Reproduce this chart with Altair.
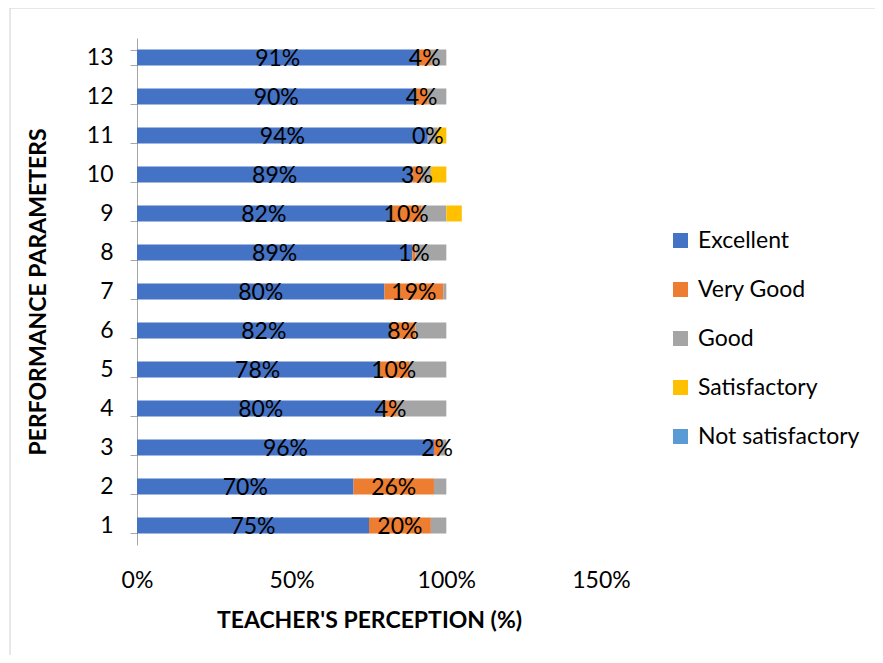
import altair as alt
import pandas as pd

params = [str(i) for i in range(1, 14)]
excellent = [75, 70, 96, 80, 78, 82, 80, 89, 82, 89, 94, 90, 91]
very_good = [20, 26, 2, 4, 10, 8, 19, 1, 10, 3, 0, 4, 4]
good = [5, 4, 2, 16, 12, 10, 1, 10, 8, 3, 3, 6, 5]
satisfactory = [0, 0, 0, 0, 0, 0, 0, 0, 5, 5, 3, 0, 0]
not_satisfactory = [0] * 13

categories = ["Excellent", "Very Good", "Good", "Satisfactory", "Not satisfactory"]
colors = ["#4472C4", "#ED7D31", "#A5A5A5", "#FFC000", "#5B9BD5"]
series = [excellent, very_good, good, satisfactory, not_satisfactory]
labelled = {"Excellent", "Very Good"}

rows = []
for i, p in enumerate(params):
    start = 0
    for k, cat in enumerate(categories):
        v = series[k][i]
        rows.append({"param": p, "cat": cat, "order": k, "x0": start, "x1": start + v,
                     "mid": start + v / 2, "val": v,
                     "label": f"{v}%" if cat in labelled else ""})
        start += v
df = pd.DataFrame(rows)

FONT = "Lato"
FS = 23
W, H = 464, 507

yscale = alt.Scale(domain=params[::-1], paddingInner=0.59, paddingOuter=0.295)
xscale = alt.Scale(domain=[0, 150], nice=False)

bars = alt.Chart(df).mark_bar().encode(
    y=alt.Y("param:N", scale=yscale, sort=params[::-1],
            axis=alt.Axis(title="PERFORMANCE PARAMETERS", tickBand="extent", domainColor="#a6a6a6",
                          tickColor="#a6a6a6", tickSize=7, labelFontSize=FS, labelColor="#000000",
                          labelFont=FONT, labelPadding=17, titleFont=FONT, titleFontSize=23,
                          titleFontWeight="bold", titleColor="#000000", titlePadding=36,
                          labelAngle=0, grid=False)),
    x=alt.X("x0:Q", scale=xscale,
            axis=alt.Axis(title="TEACHER'S PERCEPTION (%)", values=[0, 50, 100, 150],
                          labelExpr="datum.value + '%'", domain=False, ticks=False, grid=False,
                          labelFlush=False,
                          labelFontSize=FS, labelFont=FONT, labelColor="#000000", labelPadding=24,
                          titleFont=FONT, titleFontSize=23, titleFontWeight="bold",
                          titleColor="#000000", titlePadding=17)),
    x2="x1:Q",
    color=alt.Color("cat:N", scale=alt.Scale(domain=categories, range=colors),
                    legend=alt.Legend(title=None, orient="none", legendX=532, legendY=191,
                                      symbolType="square", symbolSize=225, symbolStrokeWidth=0,
                                      labelFontSize=FS, labelFont=FONT, labelColor="#000000",
                                      rowPadding=25, labelOffset=6, labelLimit=300)),
    order="order:Q",
)

texts = alt.Chart(df).transform_filter("datum.label != ''").mark_text(
    fontSize=FS, font=FONT, color="#000000", baseline="middle", dy=1
).encode(
    y=alt.Y("param:N", scale=yscale, sort=params[::-1]),
    x=alt.X("mid:Q", scale=xscale),
    text="label:N",
)

border = alt.Chart(pd.DataFrame({"a": [0]})).mark_rect(
    fill=None, stroke="#d0d0d0", strokeWidth=1, clip=False
).encode(x=alt.value(-127), x2=alt.value(760), y=alt.value(-30), y2=alt.value(660))

chart = alt.layer(border, bars, texts).properties(
    width=W, height=H, autosize=alt.AutoSizeParams(type="none"),
    padding={"left": 129, "top": 30, "right": 274, "bottom": 110},
).configure_view(stroke=None)

chart.save("out.html", embed_options={"renderer": "svg", "actions": False})
